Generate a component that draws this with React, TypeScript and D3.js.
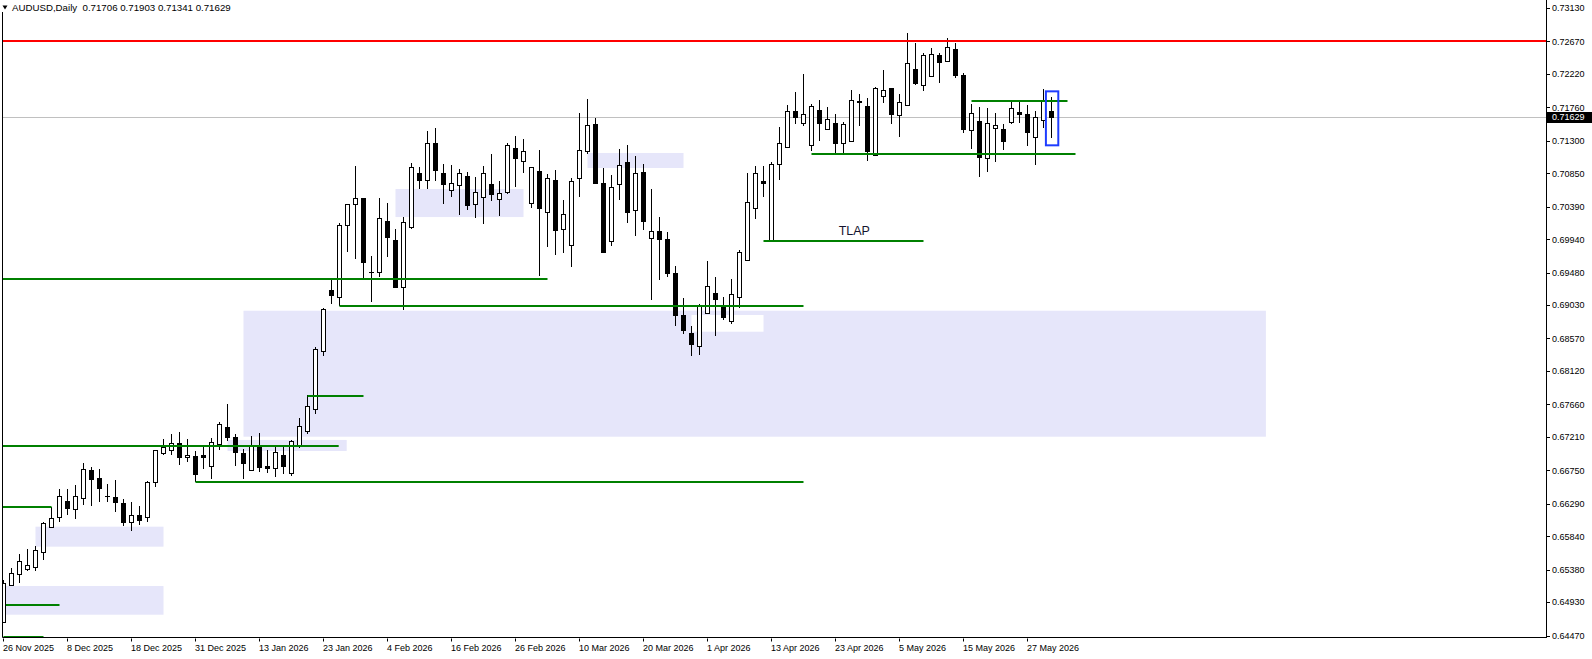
import * as d3 from 'd3';

const W = 1592;
const H = 659;

// OHLC, one entry per daily bar (26 Nov 2025 ... 3 Jun 2026)
const opens = [
  0.6465, 0.65163, 0.65315, 0.65384, 0.6542, 0.65618, 0.65964, 0.66102, 0.66326, 0.66212,
  0.66364, 0.66754, 0.6664, 0.66396, 0.66382, 0.66299, 0.66041, 0.66129, 0.66102, 0.66585,
  0.66985, 0.67026, 0.67123, 0.6693, 0.66943, 0.66957, 0.66805, 0.67109, 0.67344, 0.67206,
  0.66985, 0.6675, 0.67095, 0.66805, 0.66778, 0.66957, 0.66709, 0.67082, 0.67289, 0.67592,
  0.68393, 0.69239, 0.69138, 0.70132, 0.70422, 0.70505, 0.69494, 0.69491, 0.70187, 0.69925,
  0.69276, 0.70104, 0.7085, 0.70753, 0.71268, 0.7085, 0.70615, 0.70684, 0.70808, 0.70422,
  0.70518, 0.70698, 0.70491, 0.70596, 0.71195, 0.71015, 0.70436, 0.70881, 0.70311, 0.70757,
  0.70077, 0.69856, 0.70789, 0.71162, 0.71526, 0.70712, 0.69919, 0.70698, 0.71001, 0.70339,
  0.70864, 0.69952, 0.70049, 0.69939, 0.69469, 0.6889, 0.68641, 0.68462, 0.68917, 0.69193,
  0.69004, 0.68811, 0.69138, 0.69653, 0.70366, 0.70747, 0.69911, 0.70974, 0.71209, 0.7171,
  0.7154, 0.71236, 0.71719, 0.71465, 0.7154, 0.71264, 0.71291, 0.71843, 0.71774, 0.71106,
  0.71912, 0.72023, 0.7165, 0.71792, 0.72285, 0.72068, 0.72188, 0.72482, 0.72395, 0.72561,
  0.72202, 0.71447, 0.71567, 0.71061, 0.71471, 0.71457, 0.71554, 0.71692, 0.71664, 0.71347,
  0.71581, 0.71706,
];
const highs = [
  0.65236, 0.65402, 0.65595, 0.65664, 0.65705, 0.66037, 0.66248, 0.66492, 0.66492, 0.66547,
  0.66851, 0.66796, 0.66764, 0.66561, 0.66616, 0.66354, 0.66313, 0.66258, 0.66603, 0.6703,
  0.67182, 0.67251, 0.67275, 0.67178, 0.67017, 0.67068, 0.67192, 0.67413, 0.67661, 0.67247,
  0.6704, 0.6722, 0.67261, 0.6703, 0.67095, 0.67095, 0.67164, 0.67468, 0.67785, 0.68452,
  0.68986, 0.694, 0.7016, 0.70426, 0.7095, 0.70509, 0.69708, 0.70509, 0.7044, 0.70081,
  0.70246, 0.70992, 0.70932, 0.71434, 0.71475, 0.70978, 0.70964, 0.70905, 0.70863, 0.70794,
  0.7095, 0.71116, 0.70743, 0.71268, 0.71364, 0.71319, 0.70937, 0.71167, 0.70836, 0.70891,
  0.70477, 0.70781, 0.71678, 0.71871, 0.71609, 0.70919, 0.70822, 0.71181, 0.71236, 0.71084,
  0.70974, 0.70633, 0.70246, 0.70035, 0.69566, 0.69128, 0.68738, 0.69046, 0.69639, 0.69418,
  0.69146, 0.69391, 0.69791, 0.7085, 0.70955, 0.70955, 0.71001, 0.71485, 0.71796, 0.71972,
  0.7222, 0.71806, 0.71861, 0.71761, 0.71668, 0.71554, 0.71995, 0.71944, 0.71893, 0.72037,
  0.72271, 0.72034, 0.7194, 0.7279, 0.72644, 0.72506, 0.72575, 0.72514, 0.72713, 0.72644,
  0.7223, 0.71802, 0.71761, 0.71751, 0.71678, 0.71526, 0.7183, 0.7183, 0.71796, 0.71705,
  0.72009, 0.71903,
];
const lows = [
  0.64636, 0.6516, 0.65199, 0.65364, 0.65364, 0.65512, 0.65954, 0.66041, 0.66137, 0.66082,
  0.66275, 0.66262, 0.66317, 0.66317, 0.66179, 0.65986, 0.65917, 0.65999, 0.66041, 0.66524,
  0.66966, 0.66966, 0.66828, 0.66869, 0.66593, 0.66764, 0.66626, 0.67026, 0.67159, 0.66814,
  0.66634, 0.66741, 0.66723, 0.66717, 0.66662, 0.66703, 0.66676, 0.67062, 0.67255, 0.67532,
  0.68332, 0.6905, 0.69018, 0.69767, 0.69667, 0.69395, 0.69077, 0.69422, 0.69698, 0.69271,
  0.68967, 0.70077, 0.70637, 0.70637, 0.70747, 0.70426, 0.70527, 0.70274, 0.70343, 0.70237,
  0.70154, 0.70463, 0.70264, 0.7056, 0.70665, 0.70858, 0.70375, 0.69436, 0.69837, 0.69726,
  0.69754, 0.6956, 0.70527, 0.7112, 0.7072, 0.69767, 0.6985, 0.70481, 0.70168, 0.69988,
  0.70063, 0.69105, 0.69381, 0.69422, 0.68746, 0.68636, 0.68332, 0.68342, 0.68908, 0.68604,
  0.68825, 0.6877, 0.68986, 0.69639, 0.70215, 0.70527, 0.69901, 0.70761, 0.71199, 0.71526,
  0.71507, 0.71153, 0.713, 0.71451, 0.71126, 0.71126, 0.71278, 0.71502, 0.71015, 0.71095,
  0.71824, 0.71526, 0.71355, 0.71785, 0.72064, 0.7199, 0.72175, 0.72092, 0.72386, 0.72161,
  0.71402, 0.71181, 0.70794, 0.70863, 0.71001, 0.71167, 0.71526, 0.71548, 0.71231, 0.70968,
  0.71479, 0.71341,
];
const closes = [
  0.65195, 0.65328, 0.65494, 0.65439, 0.65646, 0.66019, 0.66088, 0.66391, 0.66234, 0.66391,
  0.66764, 0.66634, 0.6651, 0.66389, 0.66317, 0.66041, 0.66129, 0.66068, 0.66585, 0.67026,
  0.67068, 0.67123, 0.6693, 0.66957, 0.66703, 0.6693, 0.67137, 0.67385, 0.67206, 0.66999,
  0.66855, 0.67095, 0.668, 0.66786, 0.66999, 0.66814, 0.67151, 0.67358, 0.67634, 0.6842,
  0.68972, 0.69174, 0.70132, 0.70422, 0.70505, 0.6963, 0.69483, 0.70229, 0.69975, 0.69284,
  0.70173, 0.70932, 0.70753, 0.71264, 0.70899, 0.70706, 0.70712, 0.7085, 0.70416, 0.70587,
  0.7085, 0.7056, 0.70574, 0.71236, 0.71065, 0.71153, 0.70932, 0.70375, 0.70781, 0.70071,
  0.70284, 0.70739, 0.71167, 0.71512, 0.7072, 0.69767, 0.70656, 0.7096, 0.7032, 0.7085,
  0.70195, 0.70049, 0.69939, 0.69478, 0.68898, 0.68691, 0.68498, 0.69014, 0.6929, 0.6911,
  0.68862, 0.6918, 0.69763, 0.70449, 0.7085, 0.7072, 0.70974, 0.71264, 0.71705, 0.71623,
  0.71664, 0.71783, 0.7154, 0.71595, 0.71272, 0.71526, 0.71857, 0.71834, 0.71153, 0.72023,
  0.71995, 0.71664, 0.7183, 0.72368, 0.72092, 0.72478, 0.72492, 0.7239, 0.72589, 0.72202,
  0.71457, 0.71678, 0.7107, 0.7154, 0.71512, 0.71291, 0.71747, 0.71672, 0.71416, 0.71623,
  0.71843, 0.71629,
];

const priceTicks = [
  0.7313, 0.7267, 0.7222, 0.7176, 0.713, 0.7085, 0.7039, 0.6994, 0.6948, 0.6903,
  0.6857, 0.6812, 0.6766, 0.6721, 0.6675, 0.6629, 0.6584, 0.6538, 0.6493, 0.6447,
];

const dateLabels = [
  '26 Nov 2025', '8 Dec 2025', '18 Dec 2025', '31 Dec 2025', '13 Jan 2026', '23 Jan 2026',
  '4 Feb 2026', '16 Feb 2026', '26 Feb 2026', '10 Mar 2026', '20 Mar 2026', '1 Apr 2026',
  '13 Apr 2026', '23 Apr 2026', '5 May 2026', '15 May 2026', '27 May 2026',
];
const dateLabelStep = 8; // bars between time labels

// horizontal levels drawn by hand: [fromBar, toBar, price]
const greenLevels: [number, number, number][] = [
  [-1, 68, 0.69395],
  [-1, 41.9, 0.6709],
  [42, 100, 0.69022],
  [24, 100, 0.66593],
  [-1, 6, 0.66248],
  [0.3, 7, 0.64895],
  [38, 45, 0.6778],
  [95, 115, 0.69919],
  [101, 134, 0.71116],
  [121, 133, 0.71852],
  [0, 5, 0.64456],
];
const resistance = 0.7268;
const lastPrice = 0.71629;

// zones: [fromBar, toBar, topPrice, bottomPrice]
const zones: [number, number, number, number][] = [
  [30, 157.8, 0.68953, 0.67214],
  [28, 42.9, 0.67169, 0.67017],
  [4, 20, 0.65972, 0.65696],
  [0.2, 20, 0.65153, 0.64757],
  [49, 65, 0.70633, 0.70246],
  [73, 85, 0.7113, 0.70923],
];
const gapZone: [number, number, number, number] = [86, 95, 0.68894, 0.68663];
const focusBox: [number, number, number, number] = [130.3, 131.85, 0.71981, 0.71236];
const note = { text: 'TLAP', bar: 104.4, price: 0.70005 };

const title = 'AUDUSD,Daily  0.71706 0.71903 0.71341 0.71629';

const FONT = '"Liberation Sans", Arial, sans-serif';

export default function App() {
  const plotLeft = 2.5;
  const plotRight = 1546;
  const plotBottom = 637.5;

  const x = d3.scaleLinear().domain([0, 131]).range([3.5, 1051.5]);
  const y = d3.scaleLinear().domain([0.6447, 0.7313]).range([635.5, 8.1]);
  const crisp = (v: number) => Math.round(v) + 0.5;

  const bars = d3.range(opens.length).map((i) => ({
    i,
    o: opens[i],
    h: highs[i],
    l: lows[i],
    c: closes[i],
  }));

  const rectOf = (z: [number, number, number, number]) => {
    const x0 = Math.max(plotLeft, x(z[0]));
    const x1 = Math.min(plotRight, x(z[1]));
    return { x: x0, y: y(z[2]), width: x1 - x0, height: y(z[3]) - y(z[2]) };
  };

  return (
    <svg
      width={W}
      height={H}
      style={{ position: 'absolute', left: 0, top: 0, background: '#fff' }}
      fontFamily={FONT}
    >
      <defs>
        <clipPath id="plot">
          <rect x={plotLeft} y={0} width={plotRight - plotLeft} height={plotBottom} />
        </clipPath>
      </defs>
      <rect width={W} height={H} fill="#fff" />

      <g clipPath="url(#plot)">
        {zones.map((z, k) => (
          <rect key={k} {...rectOf(z)} fill="#e6e6fa" />
        ))}
        <rect {...rectOf(gapZone)} fill="#ffffff" />

        <line x1={plotLeft} x2={plotRight} y1={crisp(y(lastPrice))} y2={crisp(y(lastPrice))} stroke="#c0c0c0" />

        {bars.map((b) => {
          const cx = x(b.i);
          const bull = b.c >= b.o;
          const top = crisp(y(Math.max(b.o, b.c)));
          const bot = crisp(y(Math.min(b.o, b.c)));
          return (
            <g key={b.i}>
              <line x1={cx} x2={cx} y1={Math.round(y(b.h))} y2={Math.round(y(b.l))} stroke="#000" />
              <rect
                x={cx - 2}
                y={top}
                width={4}
                height={Math.max(bot - top, 0.01)}
                fill={bull ? '#fff' : '#000'}
                stroke="#000"
              />
            </g>
          );
        })}

        {greenLevels.map(([a, b, p], k) => (
          <line
            key={k}
            x1={Math.max(plotLeft, x(a))}
            x2={x(b)}
            y1={Math.round(y(p))}
            y2={Math.round(y(p))}
            stroke="#008000"
            strokeWidth={2}
          />
        ))}
        <line x1={plotLeft} x2={plotRight} y1={Math.round(y(resistance))} y2={Math.round(y(resistance))} stroke="#ff0000" strokeWidth={2} />

        <rect
          x={x(focusBox[0])}
          y={y(focusBox[2])}
          width={x(focusBox[1]) - x(focusBox[0])}
          height={y(focusBox[3]) - y(focusBox[2])}
          fill="none"
          stroke="#1e3cff"
          strokeWidth={2}
        />
        <text x={x(note.bar)} y={y(note.price)} fontSize={12.5} fill="#14142e">
          {note.text}
        </text>
      </g>

      {/* frame */}
      <line x1={plotLeft} x2={plotLeft} y1={12} y2={plotBottom} stroke="#000" />
      <line x1={plotLeft} x2={plotRight} y1={plotBottom} y2={plotBottom} stroke="#000" />
      <line x1={plotRight + 0.5} x2={plotRight + 0.5} y1={0} y2={plotBottom + 0.5} stroke="#000" />

      {/* price axis */}
      {priceTicks.map((p) => (
        <g key={p}>
          <line x1={plotRight + 1} x2={plotRight + 4} y1={crisp(y(p))} y2={crisp(y(p))} stroke="#000" />
          <text x={1552} y={y(p) + 3.3} fontSize={9} fill="#000">
            {p.toFixed(5)}
          </text>
        </g>
      ))}
      <rect x={1547} y={Math.round(y(lastPrice)) - 5} width={W - 1547} height={11} fill="#000" />
      <text x={1552} y={y(lastPrice) + 3.5} fontSize={9} fill="#fff">
        {lastPrice.toFixed(5)}
      </text>

      {/* time axis */}
      {dateLabels.map((d, k) => {
        const tx = x(k * dateLabelStep);
        return (
          <g key={d}>
            <line x1={tx} x2={tx} y1={plotBottom + 1} y2={plotBottom + 4} stroke="#000" />
            <text x={tx - 0.5} y={650.5} fontSize={9} fill="#000">
              {d}
            </text>
          </g>
        );
      })}

      {/* title */}
      <path d="M2.5,5.5 L7.5,5.5 L5,9.5 Z" fill="#000" />
      <text x={12} y={11} fontSize={9.7} fill="#000" xmlSpace="preserve" style={{ whiteSpace: 'pre' }}>
        {title}
      </text>
    </svg>
  );
}
